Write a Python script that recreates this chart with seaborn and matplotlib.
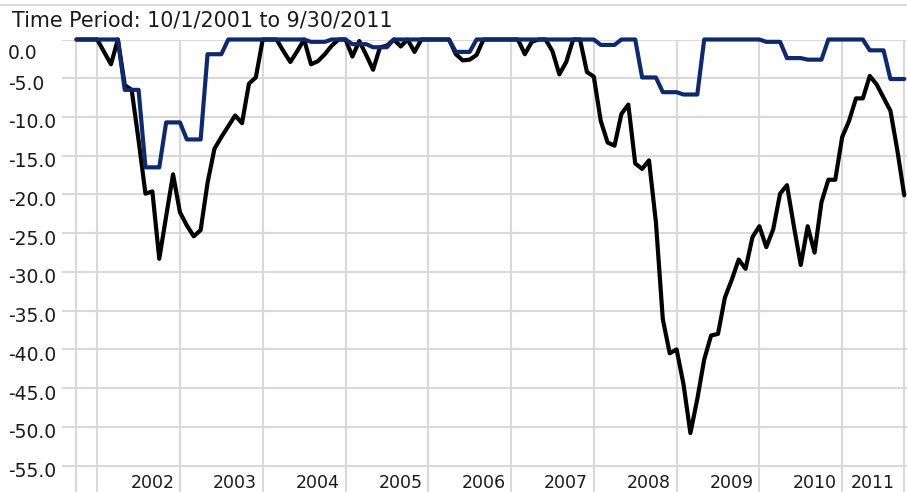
import numpy as np
import pandas as pd
import matplotlib
matplotlib.use("Agg")
import matplotlib.pyplot as plt
import matplotlib.transforms as mtransforms
from matplotlib.lines import Line2D
import seaborn as sns

# -----------------------------
# Data (month-end drawdowns, 9/30/2001 .. 9/30/2011)
# -----------------------------
title = "Time Period: 10/1/2001 to 9/30/2011"

fund_drawdown = [
    0.0, 0.0, 0.0, 0.0, -1.6, -3.2, 0.0, -5.9, -6.5, -13.0,
    -19.9, -19.6, -28.3, -22.8, -17.4, -22.3, -24.0, -25.4, -24.6, -18.5,
    -14.1, -12.6, -11.2, -9.8, -10.8, -5.7, -4.9, 0.0, 0.0, 0.0,
    -1.5, -2.9, -1.5, 0.0, -3.2, -2.8, -1.9, -0.8, 0.0, 0.0,
    -2.2, -0.2, -2.0, -3.9, -1.0, -0.8, 0.0, -0.9, 0.0, -1.6,
    0.0, 0.0, 0.0, 0.0, 0.0, -1.9, -2.7, -2.6, -2.0, 0.0,
    0.0, 0.0, 0.0, 0.0, 0.0, -1.9, -0.3, 0.0, 0.0, -1.5,
    -4.5, -2.9, 0.0, 0.0, -4.2, -4.8, -10.5, -13.3, -13.7, -9.6,
    -8.4, -16.0, -16.7, -15.6, -23.6, -36.1, -40.5, -40.0, -44.5, -50.8,
    -46.4, -41.3, -38.2, -38.0, -33.3, -31.0, -28.4, -29.6, -25.5, -24.1,
    -26.8, -24.5, -19.9, -18.8, -24.1, -29.1, -24.1, -27.5, -21.0, -18.1,
    -18.1, -12.6, -10.5, -7.6, -7.6, -4.7, -5.8, -7.5, -9.2, -14.3,
    -20.1,
]

benchmark_drawdown = [
    0.0, 0.0, 0.0, 0.0, 0.0, 0.0, 0.0, -6.5, -6.5, -6.5,
    -16.5, -16.5, -16.5, -10.7, -10.7, -10.7, -12.9, -12.9, -12.9, -1.9,
    -1.9, -1.9, 0.0, 0.0, 0.0, 0.0, 0.0, 0.0, 0.0, 0.0,
    0.0, 0.0, 0.0, 0.0, -0.3, -0.3, -0.3, 0.0, 0.0, 0.0,
    -0.6, -0.6, -0.6, -1.0, -1.0, -1.0, 0.0, 0.0, 0.0, 0.0,
    0.0, 0.0, 0.0, 0.0, 0.0, -1.6, -1.6, -1.6, 0.0, 0.0,
    0.0, 0.0, 0.0, 0.0, 0.0, 0.0, 0.0, 0.0, 0.0, 0.0,
    0.0, 0.0, 0.0, 0.0, 0.0, 0.0, -0.7, -0.7, -0.7, 0.0,
    0.0, 0.0, -4.9, -4.9, -4.9, -6.8, -6.8, -6.8, -7.1, -7.1,
    -7.1, 0.0, 0.0, 0.0, 0.0, 0.0, 0.0, 0.0, 0.0, 0.0,
    -0.3, -0.3, -0.3, -2.4, -2.4, -2.4, -2.6, -2.6, -2.6, 0.0,
    0.0, 0.0, 0.0, 0.0, 0.0, -1.4, -1.4, -1.4, -5.1, -5.1,
    -5.1,
]

year_labels = ["2002", "2003", "2004", "2005", "2006",
               "2007", "2008", "2009", "2010", "2011"]
year_label_pos = [11, 23, 35, 47, 59, 71, 83, 95, 107, 115.5]
year_gridlines = [0, 3, 15, 27, 39, 51, 63, 75, 87, 99, 111, 120]
y_ticks = [0, -5, -10, -15, -20, -25, -30, -35, -40, -45, -50, -55]

df = pd.DataFrame({
    "month": np.arange(len(fund_drawdown)),
    "fund": fund_drawdown,
    "benchmark": benchmark_drawdown,
})

# -----------------------------
# Style
# -----------------------------
sns.set_theme(style="white")
plt.rcParams["font.family"] = ["DejaVu Sans"]

GRID = "#d9d9d9"
NAVY = "#0f2a6c"
TEXT = "#1a1a1a"
W, H = 907, 492

fig = plt.figure(figsize=(W / 100, H / 100), dpi=100)
ax = fig.add_axes([62 / W, 0, 1 - 62 / W, 1 - 39.5 / H])

# -----------------------------
# Lines
# -----------------------------
sns.lineplot(data=df, x="month", y="fund", color="black",
             linewidth=3, ax=ax, clip_on=False, zorder=3)
sns.lineplot(data=df, x="month", y="benchmark", color=NAVY,
             linewidth=3, ax=ax, clip_on=False, zorder=4)

ax.set_xlim(-2.1, 120.4)
ax.set_ylim(-58.4, 0)

# -----------------------------
# Grid / ticks
# -----------------------------
ax.set_xticks(year_gridlines)
ax.set_yticks(y_ticks)
ax.grid(True, color=GRID, linewidth=1.5)
ax.set_axisbelow(True)
for s in ax.spines.values():
    s.set_visible(False)

ax.tick_params(axis="x", labelbottom=False, length=0)
ax.tick_params(axis="y", length=0, pad=38.9, labelsize=13.5,
               labelcolor=TEXT)
ax.set_yticklabels([f"{v:.1f}" for v in y_ticks])
for lab, v in zip(ax.get_yticklabels(), y_ticks):
    lab.set_horizontalalignment("left")
    dy = -12 if v == 0 else -4
    lab.set_transform(lab.get_transform() + mtransforms.ScaledTranslation(
        0, dy / 100, fig.dpi_scale_trans))

xtrans = mtransforms.blended_transform_factory(ax.transData, ax.transAxes)
for pos, lab in zip(year_label_pos, year_labels):
    ax.text(pos, 9 / (H - 39.5), lab, transform=xtrans, ha="center",
            va="center", fontsize=12.5, color=TEXT)

ax.set_xlabel("")
ax.set_ylabel("")

# -----------------------------
# Header
# -----------------------------
fig.add_artist(Line2D([0, 1], [1 - 5 / H, 1 - 5 / H],
                      transform=fig.transFigure, color=GRID, linewidth=1.5))
fig.text(12 / W, 1 - 20 / H, title, ha="left", va="center",
         fontsize=14.9, color=TEXT)

fig.savefig("out.png", dpi=100)
plt.close(fig)
